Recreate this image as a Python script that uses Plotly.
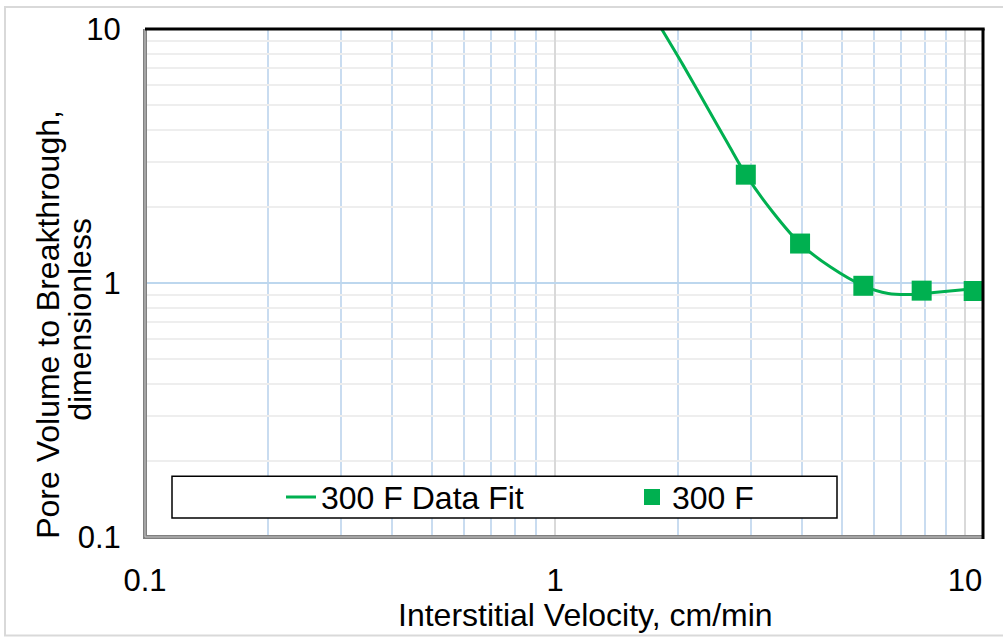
import plotly.graph_objects as go

# ---------------- data ----------------
velocity = [2.92, 3.96, 5.65, 7.84, 10.5]
pore_volume = [2.67, 1.43, 0.975, 0.933, 0.93]

fit_velocity = [1.82, 2.05, 2.35, 2.65, 2.92, 3.4, 3.96, 4.7, 5.65, 6.5, 7.4, 8.4, 10.5]
fit_pore_volume = [10.0, 7.24, 4.92, 3.5, 2.67, 1.9, 1.43, 1.155, 0.975, 0.91, 0.902, 0.917, 0.95]

x_tick_values = [0.1, 1, 10]
x_tick_labels = ["0.1", "1", "10"]
y_tick_values = [0.1, 1, 10]
y_tick_labels = ["0.1", "1", "10"]
x_minor_values = [0.2, 0.3, 0.4, 0.5, 0.6, 0.7, 0.8, 0.9, 2, 3, 4, 5, 6, 7, 8, 9]
y_minor_values = [0.2, 0.3, 0.4, 0.5, 0.6, 0.7, 0.8, 0.9, 2, 3, 4, 5, 6, 7, 8, 9]

series_fit_name = "300 F Data Fit"
series_data_name = "300 F"
x_title = "Interstitial Velocity, cm/min"
y_title_line1 = "Pore Volume to Breakthrough,"
y_title_line2 = "dimensionless"

# ---------------- styling ----------------
FONT = "Liberation Sans, Arial, sans-serif"
GREEN = "#00B050"
W, H = 1003, 637
ML, MR, MT, MB = 145, 20, 27, 100
PW, PH = W - ML - MR, H - MT - MB
TICK_SIZE = 31
TEXT_SIZE = 32


def px_x(p):
    return (p - ML) / PW


def px_y(p):
    return (H - MB - p) / PH


fig = go.Figure()
fig.add_trace(go.Scatter(
    x=fit_velocity, y=fit_pore_volume, mode="lines", name=series_fit_name,
    line=dict(color=GREEN, width=3, shape="spline", smoothing=0.8),
))
fig.add_trace(go.Scatter(
    x=velocity, y=pore_volume, mode="markers", name=series_data_name,
    marker=dict(color=GREEN, symbol="square", size=20),
))

fig.update_layout(
    width=W, height=H,
    margin=dict(l=ML, r=MR, t=MT, b=MB),
    paper_bgcolor="white", plot_bgcolor="white",
    font=dict(family=FONT, size=TICK_SIZE, color="black"),
    showlegend=True,
    legend=dict(
        orientation="h", x=px_x(281), xanchor="left", y=px_y(497), yanchor="middle",
        bgcolor="rgba(0,0,0,0)", borderwidth=0, entrywidth=306,
        font=dict(family=FONT, size=TEXT_SIZE, color="black"),
    ),
    xaxis=dict(
        type="log", range=[-1, 1.0439], tickmode="array",
        tickvals=x_tick_values, ticktext=x_tick_labels,
        ticks="outside", ticklen=16, tickcolor="rgba(0,0,0,0)",
        tickfont=dict(family=FONT, size=TICK_SIZE, color="black"),
        showgrid=True, gridcolor="#d9d9d9", gridwidth=1.5,
        minor=dict(tickmode="array", tickvals=x_minor_values, showgrid=True,
                   gridcolor="#c9dcf0", gridwidth=1.5, ticks=""),
        zeroline=False, showline=False,
    ),
    yaxis=dict(
        type="log", range=[-1, 1], tickmode="array",
        tickvals=y_tick_values, ticktext=y_tick_labels,
        ticks="outside", ticklen=17, tickcolor="rgba(0,0,0,0)",
        tickfont=dict(family=FONT, size=TICK_SIZE, color="black"),
        showgrid=True, gridcolor="#bdd7ee", gridwidth=1.5,
        minor=dict(tickmode="array", tickvals=y_minor_values, showgrid=True,
                   gridcolor="#eeeeee", gridwidth=1.5, ticks=""),
        zeroline=False, showline=False,
    ),
)

shapes = [
    # outer chart border
    dict(type="rect", xref="paper", yref="paper",
         x0=px_x(5), x1=px_x(1012), y0=px_y(636), y1=px_y(5),
         line=dict(color="#d9d9d9", width=2), fillcolor="rgba(0,0,0,0)", layer="below"),
    # legend box
    dict(type="rect", xref="paper", yref="paper",
         x0=px_x(172), x1=px_x(837), y0=px_y(518), y1=px_y(476),
         line=dict(color="black", width=1.5), fillcolor="white", layer="above"),
    # plot area: left and bottom (gray double line)
    dict(type="line", xref="paper", yref="paper", x0=0, x1=0, y0=-0.004, y1=1,
         line=dict(color="#808080", width=4), layer="above"),
    dict(type="line", xref="paper", yref="paper", x0=-0.002, x1=1, y0=0, y1=0,
         line=dict(color="#808080", width=4), layer="above"),
    dict(type="line", xref="paper", yref="paper", x0=0, x1=0, y0=0, y1=1,
         line=dict(color="#c8c8c8", width=1), layer="above"),
    dict(type="line", xref="paper", yref="paper", x0=0, x1=1, y0=0, y1=0,
         line=dict(color="#c8c8c8", width=1), layer="above"),
    # plot area: top and right (black)
    dict(type="line", xref="paper", yref="paper", x0=0, x1=1.002, y0=1, y1=1,
         line=dict(color="black", width=3), layer="above"),
    dict(type="line", xref="paper", yref="paper", x0=1, x1=1, y0=-0.004, y1=1,
         line=dict(color="black", width=3), layer="above"),
]
fig.update_layout(shapes=shapes)

fig.add_annotation(text=x_title, xref="paper", yref="paper",
                   x=px_x(585), y=px_y(615), xanchor="center", yanchor="middle",
                   showarrow=False, font=dict(family=FONT, size=TEXT_SIZE, color="black"))
fig.add_annotation(text=y_title_line1, xref="paper", yref="paper",
                   x=px_x(48), y=px_y(324), xanchor="center", yanchor="middle",
                   textangle=-90, showarrow=False,
                   font=dict(family=FONT, size=TEXT_SIZE, color="black"))
fig.add_annotation(text=y_title_line2, xref="paper", yref="paper",
                   x=px_x(80), y=px_y(319), xanchor="center", yanchor="middle",
                   textangle=-90, showarrow=False,
                   font=dict(family=FONT, size=TEXT_SIZE, color="black"))

fig.write_html("out.html")
